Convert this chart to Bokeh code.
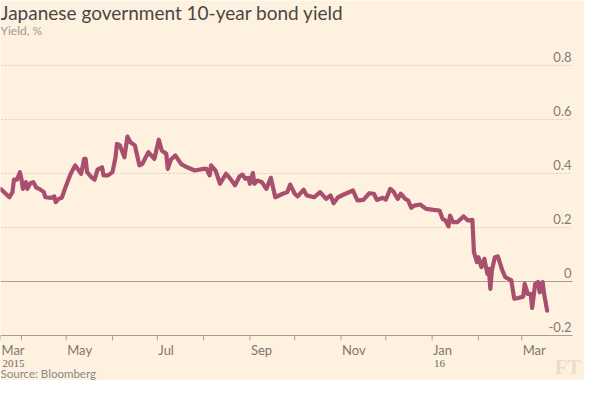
import pandas as pd
from bokeh.plotting import figure
from bokeh.models import Label, Range1d, ColumnDataSource
from bokeh.embed import file_html
from bokeh.resources import INLINE

# ---------------- data ----------------
dates = [
    "2015-03-18", "2015-03-24", "2015-03-26", "2015-03-27", "2015-03-29", "2015-03-31",
    "2015-04-01", "2015-04-02", "2015-04-04", "2015-04-05", "2015-04-07", "2015-04-09",
    "2015-04-11", "2015-04-13", "2015-04-16", "2015-04-17", "2015-04-21", "2015-04-23",
    "2015-04-24", "2015-04-26", "2015-04-28", "2015-05-01", "2015-05-04", "2015-05-07",
    "2015-05-11", "2015-05-13", "2015-05-14", "2015-05-15", "2015-05-18", "2015-05-20",
    "2015-05-22", "2015-05-25", "2015-05-26", "2015-05-29", "2015-06-01", "2015-06-03",
    "2015-06-04", "2015-06-06", "2015-06-09", "2015-06-11", "2015-06-13", "2015-06-16",
    "2015-06-19", "2015-06-21", "2015-06-25", "2015-06-29", "2015-07-02", "2015-07-04",
    "2015-07-07", "2015-07-08", "2015-07-10", "2015-07-13", "2015-07-17", "2015-07-21",
    "2015-07-26", "2015-08-01", "2015-08-03", "2015-08-05", "2015-08-06", "2015-08-09",
    "2015-08-12", "2015-08-16", "2015-08-19", "2015-08-22", "2015-08-25", "2015-08-27",
    "2015-08-29", "2015-08-31", "2015-09-01", "2015-09-03", "2015-09-04", "2015-09-06",
    "2015-09-09", "2015-09-12", "2015-09-15", "2015-09-18", "2015-09-23", "2015-09-26",
    "2015-09-28", "2015-10-01", "2015-10-03", "2015-10-07", "2015-10-09", "2015-10-14",
    "2015-10-18", "2015-10-22", "2015-10-25", "2015-10-27", "2015-10-30", "2015-11-04",
    "2015-11-09", "2015-11-12", "2015-11-16", "2015-11-20", "2015-11-23", "2015-11-25",
    "2015-11-29", "2015-12-01", "2015-12-04", "2015-12-06", "2015-12-09", "2015-12-11",
    "2015-12-14", "2015-12-16", "2015-12-18", "2015-12-20", "2015-12-24", "2015-12-28",
    "2016-01-02", "2016-01-06", "2016-01-08", "2016-01-10", "2016-01-12", "2016-01-13",
    "2016-01-15", "2016-01-18", "2016-01-22", "2016-01-25", "2016-01-28", "2016-01-29",
    "2016-01-31", "2016-02-01", "2016-02-03", "2016-02-05", "2016-02-07", "2016-02-08",
    "2016-02-09", "2016-02-10", "2016-02-12", "2016-02-14", "2016-02-16", "2016-02-17",
    "2016-02-19", "2016-02-23", "2016-02-25", "2016-02-27", "2016-03-02", "2016-03-03",
    "2016-03-05", "2016-03-07", "2016-03-08", "2016-03-10", "2016-03-12", "2016-03-13",
    "2016-03-15", "2016-03-16", "2016-03-18",
]
yields = [
    0.343, 0.312, 0.331, 0.377, 0.377, 0.405,
    0.380, 0.343, 0.368, 0.343, 0.364, 0.368,
    0.347, 0.343, 0.331, 0.312, 0.310, 0.315,
    0.294, 0.306, 0.310, 0.356, 0.399, 0.430,
    0.399, 0.454, 0.454, 0.405, 0.386, 0.377,
    0.414, 0.423, 0.393, 0.393, 0.405, 0.460,
    0.510, 0.504, 0.460, 0.537, 0.516, 0.504,
    0.430, 0.436, 0.479, 0.454, 0.525, 0.485,
    0.473, 0.417, 0.451, 0.467, 0.435, 0.423,
    0.411, 0.417, 0.417, 0.393, 0.430, 0.411,
    0.362, 0.399, 0.380, 0.356, 0.389, 0.396,
    0.380, 0.384, 0.362, 0.402, 0.362, 0.374,
    0.368, 0.343, 0.384, 0.312, 0.325, 0.331,
    0.359, 0.325, 0.315, 0.340, 0.319, 0.312,
    0.331, 0.306, 0.319, 0.290, 0.312, 0.325,
    0.337, 0.300, 0.302, 0.327, 0.325, 0.302,
    0.310, 0.303, 0.343, 0.334, 0.306, 0.325,
    0.306, 0.300, 0.273, 0.281, 0.285, 0.269,
    0.265, 0.263, 0.232, 0.226, 0.204, 0.244,
    0.220, 0.220, 0.241, 0.226, 0.228, 0.109,
    0.072, 0.090, 0.053, 0.084, 0.028, 0.047,
    -0.027, 0.041, 0.090, 0.093, 0.059, 0.041,
    0.016, 0.004, -0.064, -0.062, -0.056, -0.009,
    -0.046, -0.046, -0.098, -0.009, -0.002, -0.040,
    -0.002, -0.046, -0.108,
]

title_text = "Japanese government 10-year bond yield"
subtitle_text = "Yield, %"
source_text = "Source: Bloomberg"
brand_text = "FT"

y_ticks = [-0.2, 0.0, 0.2, 0.4, 0.6, 0.8]
y_tick_labels = ["-0.2", "0", "0.2", "0.4", "0.6", "0.8"]
grid_ticks = [0.2, 0.4, 0.6, 0.8]

x_tick_dates = ["2015-03-18", "2015-04-01", "2015-05-01", "2015-06-01", "2015-07-01",
                "2015-08-01", "2015-09-01", "2015-10-01", "2015-11-01", "2015-12-01",
                "2016-01-01", "2016-02-01", "2016-03-01"]
x_label_dates = ["2015-03-18", "2015-05-01", "2015-07-01", "2015-09-01",
                 "2015-11-01", "2016-01-01", "2016-03-01"]
x_labels = ["Mar", "May", "Jul", "Sep", "Nov", "Jan", "Mar"]
year_label_dates = ["2015-03-18", "2016-01-01"]
year_labels = ["2015", "16"]

x_start, x_end = "2015-03-18", "2016-04-04"   # extent of the chart area
y_min = -0.2

# ---------------- layout constants ----------------
W, H = 584, 380
AREA_W = 572            # px width of the chart area (x_start .. x_end)
AREA_BOTTOM = 335       # canvas row of y_min
PX_PER_UNIT = 270.0     # px per 1 percentage point

BG = "#fff1e0"
LINE = "#a74f6d"
AXIS = "#a79f95"
GRID = "#d8cec2"
SANS = "Lato"


def ms(d):
    return pd.Timestamp(d).value / 1e6


X0, X1 = ms(x_start), ms(x_end)
PX_PER_MS = AREA_W / (X1 - X0)


def y_at(canvas_y):
    return y_min + (AREA_BOTTOM - canvas_y) / PX_PER_UNIT


def x_at(canvas_x):
    return X0 + canvas_x / PX_PER_MS


# whole canvas is the frame; ranges extended so the chart area sits inside
p = figure(width=W, height=H, x_axis_type="datetime",
           x_axis_location=None, y_axis_location=None,
           x_range=Range1d(x_at(0), x_at(W)), y_range=Range1d(y_at(H), y_at(0)),
           output_backend="svg", toolbar_location=None,
           min_border=0)
p.background_fill_color = BG
p.border_fill_color = BG
p.outline_line_color = None
p.grid.visible = False

# dashed grid lines
n = len(grid_ticks)
p.segment(x0=[X0] * n, x1=[X1] * n, y0=grid_ticks, y1=grid_ticks,
          line_color=GRID, line_width=1, line_dash="2 2")

# zero line and x axis line
p.segment(x0=[X0, X0], x1=[X1, X1], y0=[0.0, y_min], y1=[0.0, y_min],
          line_color=AXIS, line_width=1)

# x ticks
tick_x = [ms(d) for d in x_tick_dates]
tick_len = 5 / PX_PER_UNIT
p.segment(x0=tick_x, x1=tick_x, y0=[y_min] * len(tick_x),
          y1=[y_min - tick_len] * len(tick_x), line_color=AXIS, line_width=1)

# the data line
src = ColumnDataSource(data=dict(x=pd.to_datetime(dates), y=yields))
p.line("x", "y", source=src, line_color=LINE, line_width=4.2,
       line_join="round", line_cap="round")


def label(x, y, text, align="left", font=SANS, size="13px", color="#7d7872",
          style="normal", x_offset=0):
    p.add_layout(Label(x=x, y=y, text=text, x_offset=x_offset,
                       text_align=align, text_baseline="middle",
                       text_font=font, text_font_size=size,
                       text_font_style=style, text_color=color))


# y tick labels (right side, above the grid lines)
for v, t in zip(y_ticks, y_tick_labels):
    label(X1, v + 9 / PX_PER_UNIT, t, align="right", color="#807b75", x_offset=-1)

# x labels
for d, t in zip(x_label_dates, x_labels):
    label(ms(d), y_at(349), t, x_offset=1)
for d, t in zip(year_label_dates, year_labels):
    label(ms(d), y_at(363), t, font="Liberation Serif", size="11px",
          color="#6e6a66", x_offset=2)

# titles, source, brand
label(x_at(0), y_at(12), title_text, size="19px", color="#4a4743")
label(x_at(0), y_at(30), subtitle_text, size="12px", color="#9d9892")
label(x_at(0), y_at(373), source_text, size="11.5px", color="#8c8780")
label(x_at(W - 4), y_at(366), brand_text, align="right", font="Liberation Serif",
      size="20px", color="#eadccb", style="bold")

open("out.html", "w").write(file_html(p, INLINE))
